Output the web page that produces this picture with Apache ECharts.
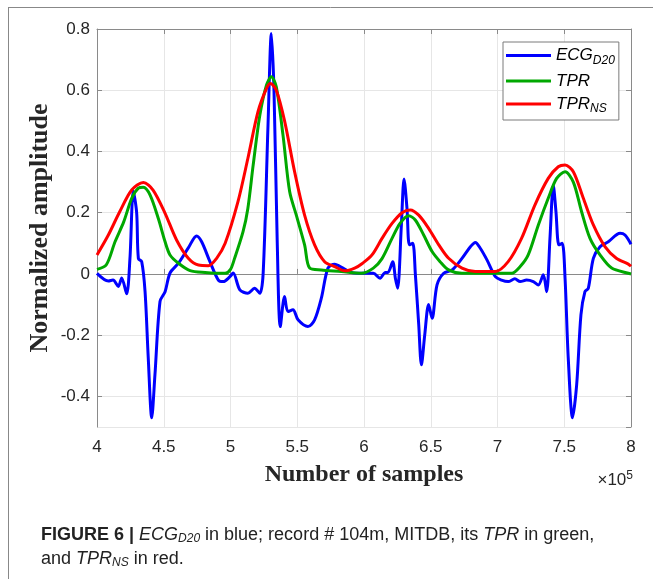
<!DOCTYPE html>
<html>
<head>
<meta charset="utf-8">
<script src="https://cdn.jsdelivr.net/npm/echarts@6/dist/echarts.min.js"></script>
<style>
  html, body { margin: 0; padding: 0; background: #fff; }
  #main { width: 653px; height: 579px; }
</style>
</head>
<body>
<div id="main"></div>
<script>
// x in units of 1e5 samples
var ecgX = [4.00, 4.085, 4.12, 4.16, 4.185, 4.222, 4.247, 4.272, 4.297, 4.31, 4.335, 4.36, 4.384, 4.41, 4.434, 4.472, 4.51, 4.547, 4.61, 4.684, 4.746, 4.784, 4.846, 4.909, 4.946, 4.996,
  5.02, 5.07, 5.13, 5.18, 5.22, 5.245, 5.281, 5.306, 5.326, 5.35, 5.373, 5.405, 5.43, 5.468, 5.506, 5.58, 5.63, 5.68, 5.73, 5.78, 5.843, 5.905, 5.985,
  6.07, 6.12, 6.16, 6.18, 6.215, 6.235, 6.252, 6.28, 6.30, 6.322, 6.34, 6.365, 6.385, 6.41, 6.43, 6.455, 6.484, 6.51, 6.547, 6.597, 6.66, 6.734, 6.797, 6.834, 6.871, 6.921, 6.984,
  7.03, 7.08, 7.13, 7.17, 7.218, 7.268, 7.306, 7.343, 7.368, 7.393, 7.418, 7.438, 7.46, 7.485, 7.506, 7.53, 7.562, 7.593, 7.625, 7.655, 7.68, 7.718, 7.768, 7.83, 7.918, 7.955, 8.0];
var ecgY = [0.002, -0.023, -0.02, -0.041, -0.013, -0.065, 0.052, 0.27, 0.20, 0.05, 0.04, -0.058, -0.275, -0.47, -0.33, -0.09, -0.058, 0.003, 0.035, 0.085, 0.124, 0.105, 0.04, -0.02, -0.025, -0.009,
  0.003, -0.052, -0.063, -0.047, -0.063, 0.005, 0.486, 0.785, 0.595, 0.105, -0.172, -0.074, -0.123, -0.117, -0.15, -0.172, -0.15, -0.08, 0.019, 0.032, 0.019, 0.005, 0.002,
  0.002, -0.014, 0.005, 0.005, 0.04, -0.014, -0.047, 0.16, 0.31, 0.214, 0.095, 0.10, -0.003, -0.166, -0.297, -0.199, -0.10, -0.145, -0.036, 0.002, 0.013, 0.051, 0.089, 0.103, 0.084, 0.046, -0.009,
  -0.02, -0.025, -0.016, -0.025, -0.02, -0.025, -0.036, -0.003, -0.058, 0.116, 0.29, 0.203, 0.095, 0.10, -0.014, -0.275, -0.47, -0.362, -0.134, -0.058, -0.047, 0.051, 0.089, 0.105, 0.133, 0.127, 0.097];

var tprX = [4.0, 4.07, 4.135, 4.20, 4.26, 4.31, 4.347, 4.397, 4.46, 4.51, 4.547, 4.61, 4.697, 4.81, 4.96, 5.0, 5.03, 5.094, 5.13, 5.17, 5.22, 5.27, 5.306, 5.343, 5.393, 5.443, 5.493, 5.555, 5.593, 5.68, 5.83, 5.98,
  6.07, 6.135, 6.21, 6.27, 6.334, 6.384, 6.447, 6.51, 6.57, 6.634, 6.734, 6.984, 7.106, 7.17, 7.23, 7.306, 7.38, 7.443, 7.506, 7.568, 7.63, 7.693, 7.768, 7.855, 7.98, 8.0];
var tprY = [0.015, 0.03, 0.105, 0.17, 0.247, 0.28, 0.283, 0.258, 0.18, 0.105, 0.062, 0.035, 0.011, 0.005, 0.002, 0.015, 0.05, 0.138, 0.214, 0.356, 0.519, 0.617, 0.644, 0.611, 0.454, 0.269, 0.192, 0.095, 0.019, 0.013, 0.008, 0.002,
  0.019, 0.05, 0.116, 0.165, 0.19, 0.176, 0.127, 0.073, 0.04, 0.013, 0.002, 0.002, 0.002, 0.024, 0.062, 0.16, 0.247, 0.312, 0.334, 0.30, 0.203, 0.116, 0.062, 0.019, 0.002, 0.0];

var nsX = [4.0, 4.085, 4.17, 4.26, 4.347, 4.42, 4.51, 4.596, 4.684, 4.76, 4.834, 4.896, 4.96, 5.056, 5.13, 5.206, 5.27, 5.30, 5.343, 5.405, 5.48, 5.555, 5.63, 5.705, 5.78, 5.855, 5.93, 5.99,
  6.06, 6.135, 6.21, 6.285, 6.347, 6.41, 6.484, 6.56, 6.634, 6.734, 6.834, 6.984, 7.08, 7.18, 7.28, 7.38, 7.455, 7.506, 7.568, 7.643, 7.718, 7.805, 7.89, 7.98, 8.0];
var nsY = [0.062, 0.127, 0.203, 0.274, 0.299, 0.274, 0.198, 0.111, 0.051, 0.029, 0.027, 0.051, 0.10, 0.236, 0.377, 0.53, 0.606, 0.622, 0.60, 0.50, 0.334, 0.192, 0.095, 0.04, 0.024, 0.01, 0.019, 0.035,
  0.062, 0.116, 0.165, 0.20, 0.209, 0.192, 0.149, 0.095, 0.051, 0.019, 0.008, 0.008, 0.04, 0.116, 0.225, 0.312, 0.35, 0.356, 0.334, 0.247, 0.16, 0.089, 0.051, 0.032, 0.025];

var seriesNames = ['ECG_D20', 'TPR', 'TPR_NS'];

function pairs(xs, ys) {
  var out = [];
  for (var i = 0; i < xs.length; i++) out.push([xs[i], ys[i]]);
  return out;
}

var axisGray = '#8a8a8a';
var labelColor = '#262626';
var sans = 'Liberation Sans, Arial, sans-serif';
var serif = 'Liberation Serif, Times New Roman, serif';

var myChart = echarts.init(document.getElementById('main'));
myChart.setOption({
  backgroundColor: '#fff',
  animation: false,
  grid: { left: 97, right: 22, top: 29, bottom: 152 },
  legend: {
    orient: 'vertical',
    left: 503,
    top: 42,
    icon: 'rect',
    itemWidth: 45,
    itemHeight: 3,
    itemGap: 6,
    padding: [5, 4, 5, 3],
    borderColor: '#7a7a7a',
    borderWidth: 1,
    backgroundColor: '#fff',
    data: seriesNames,
    formatter: function (name) {
      if (name === 'ECG_D20') return '{m|ECG}{s|D20}';
      if (name === 'TPR_NS') return '{m|TPR}{s|NS}';
      return '{m|TPR}';
    },
    textStyle: {
      color: '#000',
      rich: {
        m: { fontSize: 17, fontStyle: 'italic', fontFamily: sans, color: '#000', height: 20 },
        s: { fontSize: 12, fontStyle: 'italic', fontFamily: sans, color: '#000', padding: [10, 0, 0, 0] }
      }
    }
  },
  xAxis: [{
    type: 'value',
    min: 4, max: 8, interval: 0.5,
    name: 'Number of samples',
    nameLocation: 'middle',
    nameGap: 36,
    nameMoveOverlap: false,
    nameTextStyle: { fontFamily: serif, fontWeight: 'bold', fontSize: 24, color: '#262626' },
    axisLine: { show: true, lineStyle: { color: axisGray } },
    axisTick: { show: true, inside: true, length: 5, lineStyle: { color: axisGray } },
    axisLabel: { color: labelColor, fontSize: 17, fontFamily: sans, margin: 12 },
    splitLine: { show: true, lineStyle: { color: '#e6e6e6' } }
  }, {
    type: 'value',
    position: 'top',
    min: 4, max: 8, interval: 0.5,
    axisLine: { show: true, onZero: false, lineStyle: { color: axisGray } },
    axisTick: { show: true, inside: true, length: 5, lineStyle: { color: axisGray } },
    axisLabel: { show: false },
    splitLine: { show: false }
  }],
  yAxis: [{
    type: 'value',
    min: -0.5, max: 0.8,
    splitNumber: 6, minInterval: 0.2, maxInterval: 0.2,
    name: 'Normalized amplitude',
    nameLocation: 'middle',
    nameGap: 44,
    nameMoveOverlap: false,
    nameTextStyle: { fontFamily: serif, fontWeight: 'bold', fontSize: 26, color: '#262626' },
    axisLine: { show: true, onZero: false, lineStyle: { color: axisGray } },
    axisTick: { show: true, inside: true, length: 5, lineStyle: { color: axisGray } },
    axisLabel: { color: labelColor, fontSize: 17, fontFamily: sans, margin: 7, showMinLabel: false },
    splitLine: { show: true, lineStyle: { color: '#e6e6e6' } }
  }, {
    type: 'value',
    position: 'right',
    min: -0.5, max: 0.8,
    splitNumber: 6, minInterval: 0.2, maxInterval: 0.2,
    axisLine: { show: true, onZero: false, lineStyle: { color: axisGray } },
    axisTick: { show: true, inside: true, length: 5, lineStyle: { color: axisGray } },
    axisLabel: { show: false },
    splitLine: { show: false }
  }],
  series: [{
    name: 'ECG_D20',
    type: 'line',
    data: pairs(ecgX, ecgY),
    showSymbol: false,
    smooth: 0.3,
    lineStyle: { color: '#0000ff', width: 3 },
    itemStyle: { color: '#0000ff' }
  }, {
    name: 'TPR',
    type: 'line',
    data: pairs(tprX, tprY),
    showSymbol: false,
    smooth: 0.3,
    lineStyle: { color: '#00a800', width: 3 },
    itemStyle: { color: '#00a800' }
  }, {
    name: 'TPR_NS',
    type: 'line',
    data: pairs(nsX, nsY),
    showSymbol: false,
    smooth: 0.3,
    lineStyle: { color: '#ff0000', width: 3 },
    itemStyle: { color: '#ff0000' }
  }],
  graphic: [
    // outer frame (top and left edges)
    { type: 'line', shape: { x1: 8, y1: 7.5, x2: 653, y2: 7.5 }, style: { stroke: '#888', lineWidth: 1 } },
    { type: 'line', shape: { x1: 8.5, y1: 7, x2: 8.5, y2: 579 }, style: { stroke: '#888', lineWidth: 1 } },
    // x10^5 exponent
    {
      type: 'text', right: 20, top: 470,
      style: {
        text: '{b|×10}{p|5}',
        rich: {
          b: { fontSize: 17, fontFamily: sans, fill: labelColor, padding: [8, 0, 0, 0] },
          p: { fontSize: 12, fontFamily: sans, fill: labelColor }
        }
      }
    },
    // caption
    {
      type: 'text', left: 41, top: 526,
      style: {
        text: '{b|FIGURE 6 | }{i|ECG}{s|D20}{n| in blue; record # 104m, MITDB, its }{i|TPR}{n| in green,}',
        rich: {
          b: { fontSize: 18, fontWeight: 'bold', fontFamily: sans, fill: '#222' },
          i: { fontSize: 18, fontStyle: 'italic', fontFamily: sans, fill: '#222' },
          s: { fontSize: 12, fontStyle: 'italic', fontFamily: sans, fill: '#222', padding: [7, 0, 0, 0] },
          n: { fontSize: 18, fontFamily: sans, fill: '#222' }
        }
      }
    },
    {
      type: 'text', left: 41, top: 550,
      style: {
        text: '{n|and }{i|TPR}{s|NS}{n| in red.}',
        rich: {
          i: { fontSize: 18, fontStyle: 'italic', fontFamily: sans, fill: '#222' },
          s: { fontSize: 12, fontStyle: 'italic', fontFamily: sans, fill: '#222', padding: [7, 0, 0, 0] },
          n: { fontSize: 18, fontFamily: sans, fill: '#222' }
        }
      }
    }
  ]
});
</script>
</body>
</html>
